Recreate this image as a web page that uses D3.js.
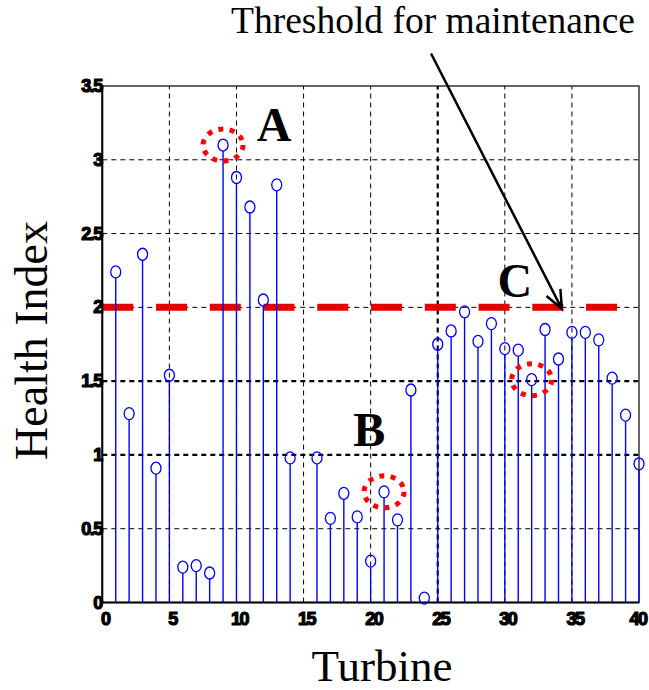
<!DOCTYPE html>
<html>
<head>
<meta charset="utf-8">
<script src="https://cdn.jsdelivr.net/npm/d3@7"></script>
<style>
body { margin: 0; background: #fff; }
</style>
</head>
<body>
<div id="chart"></div>
<script>
// 1. DATA
const turbines = d3.range(1, 41);
const healthIndex = [
    2.24, 1.28, 2.36, 0.91, 1.54, 0.24, 0.25, 0.20, 3.10, 2.88,
    2.68, 2.05, 2.83, 0.98, null, 0.98, 0.57, 0.74, 0.58, 0.28,
    0.75, 0.56, 1.44, 0.03, 1.75, 1.84, 1.97, 1.77, 1.89, 1.72,
    1.71, 1.51, 1.85, 1.65, 1.83, 1.83, 1.78, 1.52, 1.27, 0.94
];
const threshold = 2;
const xTicks = [0, 5, 10, 15, 20, 25, 30, 35, 40];
const yTicks = [0, 0.5, 1, 1.5, 2, 2.5, 3, 3.5];
const circledTurbines = [9, 21, 32];
const letterLabels = [
    { text: "A", x: 12.8, y: 3.125 },
    { text: "B", x: 19.9, y: 1.06 },
    { text: "C", x: 30.75, y: 2.07 }
];
const arrowFrom = { x: 24.5, y: 3.72 };
const arrowTo = { x: 34.25, y: 1.99 };

// 2. SETUP
const width = 649;
const height = 690;
const margin = { top: 86, right: 10, bottom: 87.5, left: 102.3 };

const svg = d3.select("#chart")
    .append("svg")
    .attr("width", width)
    .attr("height", height);

const x = d3.scaleLinear().domain([0, 40]).range([margin.left, width - margin.right]);
const y = d3.scaleLinear().domain([0, 3.5]).range([height - margin.bottom, margin.top]);

const serif = "'Liberation Serif', 'Times New Roman', Times, serif";
const tickFont = "'Liberation Sans', Arial, sans-serif";

// grid
const grid = svg.append("g").attr("fill", "none").attr("stroke", "#000");
grid.selectAll(".vgrid").data(xTicks.slice(1, -1)).join("line")
    .attr("x1", d => x(d)).attr("x2", d => x(d))
    .attr("y1", y(0)).attr("y2", y(3.5))
    .attr("stroke-width", d => d === 25 ? 2.2 : 1)
    .attr("stroke-dasharray", "5,4");
grid.selectAll(".hgrid").data(yTicks.slice(1, -1)).join("line")
    .attr("x1", x(0)).attr("x2", x(40))
    .attr("y1", d => y(d)).attr("y2", d => y(d))
    .attr("stroke-width", d => (d === 1 || d === 1.5) ? 2.2 : 1)
    .attr("stroke-dasharray", "5,4");

// threshold line
svg.append("line")
    .attr("x1", x(0)).attr("x2", x(40))
    .attr("y1", y(threshold)).attr("y2", y(threshold))
    .attr("stroke", "#e50000").attr("stroke-width", 7)
    .attr("stroke-dasharray", "31,22.75");

// frame
svg.append("rect")
    .attr("x", x(0)).attr("y", y(3.5))
    .attr("width", x(40) - x(0)).attr("height", y(0) - y(3.5))
    .attr("fill", "none").attr("stroke", "#000").attr("stroke-width", 1.2);
svg.append("line")
    .attr("x1", x(0)).attr("x2", x(40)).attr("y1", y(0)).attr("y2", y(0))
    .attr("stroke", "#000").attr("stroke-width", 2.2);
svg.append("line")
    .attr("x1", x(0)).attr("x2", x(0)).attr("y1", y(0)).attr("y2", y(3.5))
    .attr("stroke", "#000").attr("stroke-width", 2);

// 3. STEMS
const points = turbines.map((t, i) => ({ t, v: healthIndex[i] })).filter(d => d.v !== null);
const rx = 5, ry = 6;

svg.append("g").selectAll("line").data(points).join("line")
    .attr("x1", d => x(d.t)).attr("x2", d => x(d.t))
    .attr("y1", y(0)).attr("y2", d => Math.min(y(0), y(d.v) + ry))
    .attr("stroke", "#0000ff").attr("stroke-width", 1.4);

svg.append("g").selectAll("ellipse").data(points).join("ellipse")
    .attr("cx", d => x(d.t)).attr("cy", d => y(d.v))
    .attr("rx", rx).attr("ry", ry)
    .attr("fill", "none").attr("stroke", "#0000ff").attr("stroke-width", 1.3);

// red dotted highlight circles
svg.append("g").selectAll("ellipse")
    .data(points.filter(d => circledTurbines.includes(d.t))).join("ellipse")
    .attr("cx", d => x(d.t)).attr("cy", d => y(d.v))
    .attr("rx", 20).attr("ry", 16)
    .attr("fill", "none").attr("stroke", "#ff0000")
    .attr("stroke-width", 5).attr("stroke-dasharray", "5,6.4");

// letters
svg.append("g").selectAll("text").data(letterLabels).join("text")
    .attr("x", d => x(d.x)).attr("y", d => y(d.y))
    .attr("text-anchor", "middle")
    .style("font-family", serif).style("font-weight", "bold").style("font-size", "48px")
    .text(d => d.text);

// tick labels
svg.append("g").selectAll("text").data(yTicks).join("text")
    .attr("x", x(0) - 0.5).attr("y", d => y(d) + 6)
    .attr("text-anchor", "end")
    .style("font-family", tickFont).style("font-weight", "bold").style("font-size", "18px")
    .style("letter-spacing", "-1.5px")
    .style("stroke", "#000").style("stroke-width", "1.2px")
    .text(d => d);
svg.append("g").selectAll("text").data(xTicks).join("text")
    .attr("x", d => Math.min(x(d) + 3, width - 11)).attr("y", 625)
    .attr("text-anchor", "middle")
    .style("font-family", tickFont).style("font-weight", "bold").style("font-size", "18px")
    .style("letter-spacing", "-1.5px")
    .style("stroke", "#000").style("stroke-width", "1.2px")
    .text(d => d);

// axis titles
svg.append("text")
    .attr("transform", `translate(47, ${340.5}) rotate(-90)`)
    .attr("text-anchor", "middle")
    .style("font-family", serif).style("font-size", "46px")
    .text("Health Index");
svg.append("text")
    .attr("x", 382).attr("y", 681)
    .attr("text-anchor", "middle")
    .style("font-family", serif).style("font-size", "45px")
    .text("Turbine");

// 4. ANNOTATION
svg.append("text")
    .attr("x", 231).attr("y", 33)
    .style("font-family", serif).style("font-size", "37.5px")
    .text("Threshold for maintenance");

const ax0 = x(arrowFrom.x), ay0 = y(arrowFrom.y);
const ax1 = x(arrowTo.x), ay1 = y(arrowTo.y);
const ang = Math.atan2(ay1 - ay0, ax1 - ax0);
const headLen = 20, headAng = 0.4;
svg.append("path")
    .attr("d", `M${ax0},${ay0}L${ax1},${ay1}`
        + `M${ax1 - headLen * Math.cos(ang - headAng)},${ay1 - headLen * Math.sin(ang - headAng)}`
        + `L${ax1},${ay1}`
        + `L${ax1 - headLen * Math.cos(ang + headAng)},${ay1 - headLen * Math.sin(ang + headAng)}`)
    .attr("fill", "none").attr("stroke", "#000").attr("stroke-width", 2.5);
</script>
</body>
</html>
